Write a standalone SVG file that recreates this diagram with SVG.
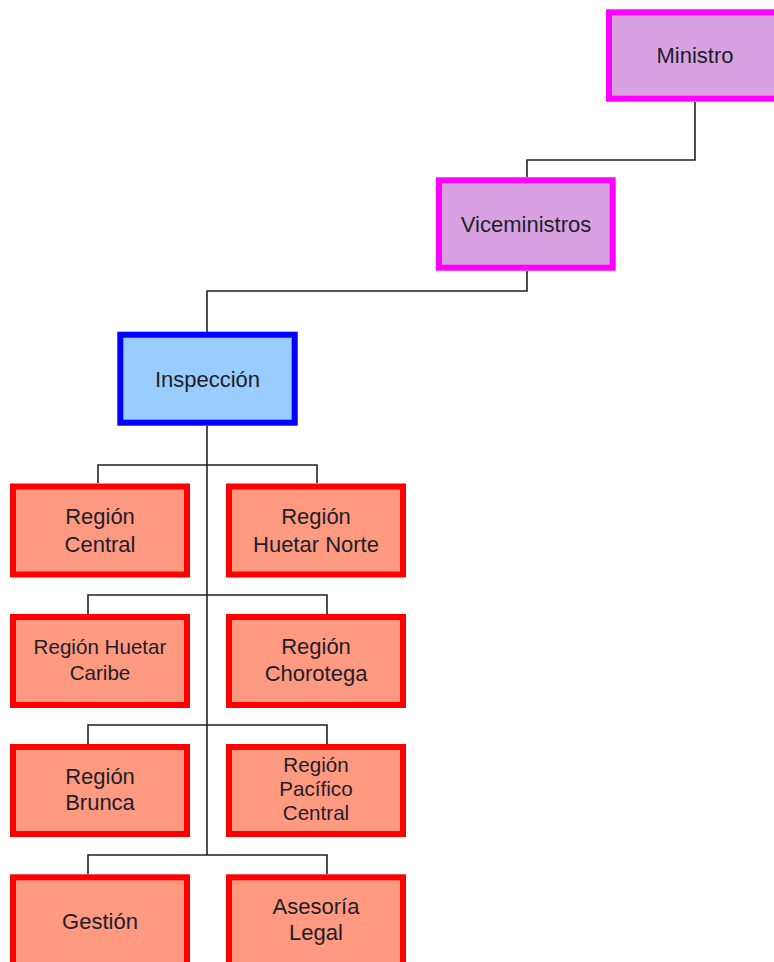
<svg xmlns="http://www.w3.org/2000/svg" width="774" height="962" viewBox="0 0 774 962">
<style>
.conn{fill:none;stroke:#222;stroke-width:1.6}
.mag{fill:#D8A2E2;stroke:#FF00FF;stroke-width:6}
.blu{fill:#99CCFF;stroke:#0000FF;stroke-width:6}
.red{fill:#FF9980;stroke:#FF0000;stroke-width:6}
text{font-family:"Liberation Sans",Arial,sans-serif;font-size:22px;fill:#1e1e2a;text-anchor:middle}
.s{font-size:20.6px}
</style>
<rect width="774" height="962" fill="#fff"/>
<g id="connectors">
<path class="conn" d="M695,102 V160 H527 V177"/>
<path class="conn" d="M527,271 V291 H207 V332"/>
<path class="conn" d="M207,426 V855"/>
<path class="conn" d="M98,483 V465 H317 V483"/>
<path class="conn" d="M88,614 V595 H327 V614"/>
<path class="conn" d="M88,744 V725 H327 V744"/>
<path class="conn" d="M88,874 V855 H327 V874"/>
</g>
<g id="ministro"><rect class="mag" x="609" y="12.3" width="172" height="86.4"/><text x="695" y="63">Ministro</text></g>
<g id="viceministros"><rect class="mag" x="439" y="180.3" width="173.7" height="87.4"/><text x="526" y="231.5">Viceministros</text></g>
<g id="inspeccion"><rect class="blu" x="120.3" y="334.7" width="174.4" height="88"/><text x="207.5" y="386.5">Inspección</text></g>
<g id="region-central"><rect class="red" x="13" y="486.5" width="174" height="88"/><text x="100" y="524">Región</text><text x="100" y="551.5">Central</text></g>
<g id="region-huetar-norte"><rect class="red" x="229" y="486.5" width="174" height="88"/><text x="316" y="524">Región</text><text x="316" y="551.5">Huetar Norte</text></g>
<g id="region-huetar-caribe"><rect class="red" x="13" y="617" width="174" height="88"/><text class="s" x="100" y="653.5">Región Huetar</text><text class="s" x="100" y="679.5">Caribe</text></g>
<g id="region-chorotega"><rect class="red" x="229" y="617" width="174" height="88"/><text x="316" y="654">Región</text><text x="316" y="681">Chorotega</text></g>
<g id="region-brunca"><rect class="red" x="13" y="747" width="174" height="87"/><text x="100" y="784">Región</text><text x="100" y="810">Brunca</text></g>
<g id="region-pacifico-central"><rect class="red" x="229" y="747" width="174" height="87"/><text class="s" x="316" y="772">Región</text><text class="s" x="316" y="796">Pacífico</text><text class="s" x="316" y="820">Central</text></g>
<g id="gestion"><rect class="red" x="13" y="877.3" width="174" height="88"/><text x="100" y="928.5">Gestión</text></g>
<g id="asesoria-legal"><rect class="red" x="229" y="877.3" width="174" height="88"/><text x="316" y="914">Asesoría</text><text x="316" y="940">Legal</text></g>
</svg>
